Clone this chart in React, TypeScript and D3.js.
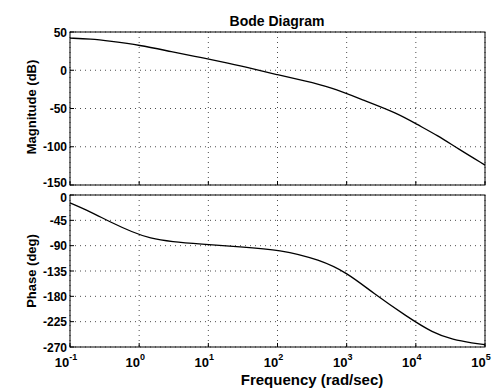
import React, { useEffect, useRef } from "react";
import * as d3 from "d3";

// frequency (rad/sec)
const magFreq = [0.1, 0.2, 0.38, 1, 3, 7.6, 20, 40, 100, 250, 575, 1740, 5370, 10500, 20400, 39800, 100000];
const magDb = [42, 41, 38, 33, 24, 17, 9, 3, -6, -14, -22, -39, -56, -71, -85, -102, -124];

const phaseFreq = [0.1, 0.2, 0.38, 0.8, 1.43, 3, 7.6, 28.7, 109, 411, 1010, 2400, 7430, 17700, 34500, 67000, 100000];
const phaseDeg = [-14, -30, -48, -66, -77, -83, -87, -92, -97, -115, -138, -174, -216, -245, -257, -263, -266];

const decades = [0.1, 1, 10, 100, 1000, 10000, 100000];
const decadeExp = ["-1", "0", "1", "2", "3", "4", "5"];
const magTicks = [50, 0, -50, -100, -150];
const phaseTicks = [0, -45, -90, -135, -180, -225, -270];

const App = () => {
  const ref = useRef(null);

  useEffect(() => {
    const svg = d3.select(ref.current);
    svg.selectAll("*").remove();

    const width = 494;
    const height = 392;
    svg.attr("width", width).attr("height", height);
    svg.append("rect").attr("width", width).attr("height", height).attr("fill", "#fff");

    const font = "'Liberation Sans', Arial, sans-serif";
    const x = d3.scaleLog().domain([0.1, 100000]).range([70, 485]);
    const yMag = d3.scaleLinear().domain([-150, 50]).range([185, 32]);
    const yPh = d3.scaleLinear().domain([-270, 0]).range([347, 195]);

    const panel = (y, ticks, freqs, vals, nudge) => {
      const g = svg.append("g");
      const [y0, y1] = y.range();
      // grid
      g.selectAll(".vg")
        .data(decades)
        .enter()
        .append("line")
        .attr("x1", (d) => x(d))
        .attr("x2", (d) => x(d))
        .attr("y1", y1)
        .attr("y2", y0)
        .attr("stroke", "#000")
        .attr("stroke-width", 0.7)
        .attr("stroke-dasharray", "1,4");
      g.selectAll(".hg")
        .data(ticks)
        .enter()
        .append("line")
        .attr("x1", 70)
        .attr("x2", 485)
        .attr("y1", (d) => y(d))
        .attr("y2", (d) => y(d))
        .attr("stroke", "#000")
        .attr("stroke-width", 0.7)
        .attr("stroke-dasharray", "1,4");
      // box
      g.append("rect")
        .attr("x", 70)
        .attr("y", y1)
        .attr("width", 415)
        .attr("height", y0 - y1)
        .attr("fill", "none")
        .attr("stroke", "#000")
        .attr("stroke-width", 1);
      // y ticks
      g.selectAll(".yt")
        .data(ticks)
        .enter()
        .append("line")
        .attr("x1", 70)
        .attr("x2", 74)
        .attr("y1", (d) => y(d))
        .attr("y2", (d) => y(d))
        .attr("stroke", "#000");
      g.selectAll(".yl")
        .data(ticks)
        .enter()
        .append("text")
        .attr("x", 67)
        .attr("y", (d) => y(d) + 4.5 + nudge(d))
        .attr("text-anchor", "end")
        .attr("font-family", font)
        .attr("font-weight", "bold")
        .attr("font-size", 12)
        .text((d) => d);
      // x ticks
      g.selectAll(".xt")
        .data(decades)
        .enter()
        .append("line")
        .attr("x1", (d) => x(d))
        .attr("x2", (d) => x(d))
        .attr("y1", y0)
        .attr("y2", y0 - 4)
        .attr("stroke", "#000");
      // curve
      const line = d3
        .line()
        .x((d) => x(d[0]))
        .y((d) => y(d[1]))
        .curve(d3.curveBasis);
      g.append("path")
        .datum(freqs.map((f, i) => [f, vals[i]]))
        .attr("d", line)
        .attr("fill", "none")
        .attr("stroke", "#000")
        .attr("stroke-width", 1.3);
    };

    panel(yMag, magTicks, magFreq, magDb, (d) => (d === -150 ? -3 : 0));
    panel(yPh, phaseTicks, phaseFreq, phaseDeg, (d) => (d === 0 ? 2 : 0));

    // x tick labels
    const xl = svg
      .selectAll(".xl")
      .data(decades)
      .enter()
      .append("text")
      .attr("x", (d) => x(d) - 4)
      .attr("y", 367)
      .attr("text-anchor", "middle")
      .attr("font-family", font)
      .attr("font-weight", "bold")
      .attr("font-size", 13);
    xl.append("tspan").text("10");
    xl.append("tspan")
      .attr("dy", -7)
      .attr("font-size", 9)
      .text((d, i) => decadeExp[i]);

    svg.append("text")
      .attr("x", 277)
      .attr("y", 26)
      .attr("text-anchor", "middle")
      .attr("font-family", font)
      .attr("font-weight", "bold")
      .attr("font-size", 14)
      .text("Bode Diagram");

    svg.append("text")
      .attr("x", 312)
      .attr("y", 385)
      .attr("text-anchor", "middle")
      .attr("font-family", font)
      .attr("font-weight", "bold")
      .attr("font-size", 15)
      .text("Frequency (rad/sec)");

    svg.append("text")
      .attr("transform", "translate(36,107) rotate(-90)")
      .attr("text-anchor", "middle")
      .attr("font-family", font)
      .attr("font-weight", "bold")
      .attr("font-size", 13)
      .text("Magnitude (dB)");

    svg.append("text")
      .attr("transform", "translate(36,271) rotate(-90)")
      .attr("text-anchor", "middle")
      .attr("font-family", font)
      .attr("font-weight", "bold")
      .attr("font-size", 13)
      .text("Phase (deg)");
  }, []);

  return <svg ref={ref} style={{ position: "absolute", left: 0, top: 0 }}></svg>;
};

export default App;
